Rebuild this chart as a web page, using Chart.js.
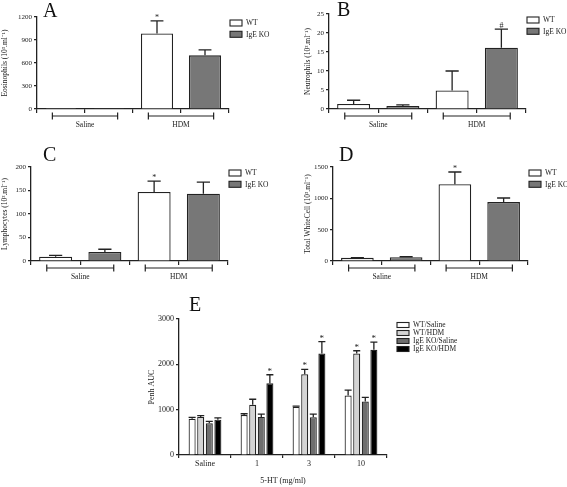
<!DOCTYPE html>
<html lang="en">
<head>
<meta charset="UTF-8">
<title>IgE KO - HDM airway inflammation</title>
<script src="https://cdn.jsdelivr.net/npm/chart.js"></script>
<style>
    body { margin: 0; background: #fff; }
    #fig { position: relative; width: 567px; height: 487px; overflow: hidden; font-family: 'Liberation Serif', serif; }
    .panel { position: absolute; }
    .letter { position: absolute; font-size: 20px; line-height: 1; color: #111; }
</style>
</head>
<body>
<div id="fig">
    <canvas id="chartA" class="panel" style="left:0;top:0" width="280" height="140"></canvas>
    <canvas id="chartB" class="panel" style="left:303px;top:0" width="264" height="140"></canvas>
    <canvas id="chartC" class="panel" style="left:0;top:150px" width="280" height="140"></canvas>
    <canvas id="chartD" class="panel" style="left:303px;top:150px" width="264" height="140"></canvas>
    <canvas id="chartE" class="panel" style="left:147px;top:300px" width="420" height="187"></canvas>
    <div class="letter" style="left:43px;top:0">A</div>
    <div class="letter" style="left:337px;top:-1px">B</div>
    <div class="letter" style="left:43px;top:144px">C</div>
    <div class="letter" style="left:339px;top:144px">D</div>
    <div class="letter" style="left:189px;top:294px">E</div>
</div>
<script>
    // groups and series for panels A-D
    const groupNames = ['Saline', 'HDM'];
    const seriesNames = ['WT', 'IgE KO'];

    // A - eosinophils
    const eosWT = [1, 985], eosWTErr = [0, 165];
    const eosKO = [1, 700], eosKOErr = [0, 72];
    const eosWTSig = ['', '*'], eosKOSig = ['', ''];

    // B - neutrophils
    const neuWT = [1.3, 4.9], neuWTErr = [1.0, 5.1];
    const neuKO = [0.8, 16.1], neuKOErr = [0.3, 4.9];
    const neuWTSig = ['', ''], neuKOSig = ['', '#'];

    // C - lymphocytes
    const lymWT = [9, 147], lymWTErr = [3, 23];
    const lymKO = [19, 143], lymKOErr = [6, 25];
    const lymWTSig = ['', '*'], lymKOSig = ['', ''];

    // D - total white cells
    const wbcWT = [50, 1225], wbcWTErr = [5, 195];
    const wbcKO = [60, 940], wbcKOErr = [8, 65];
    const wbcWTSig = ['', '*'], wbcKOSig = ['', ''];

    // E - Penh AUC vs 5-HT dose
    const doseLabels = ['Saline', '1', '3', '10'];
    const eSeries = ['WT/Saline', 'WT/HDM', 'IgE KO/Saline', 'IgE KO/HDM'];
    const wtSal = [800, 880, 1065, 1310], wtSalErr = [30, 30, 15, 120];
    const wtHdm = [840, 1110, 1780, 2240], wtHdmErr = [30, 120, 110, 60];
    const koSal = [700, 840, 830, 1180], koSalErr = [40, 60, 70, 90];
    const koHdm = [780, 1580, 2240, 2320], koHdmErr = [40, 190, 260, 170];
    const wtHdmSig = ['', '', '*', '*'], koHdmSig = ['', '*', '*', '*'];

    const ink = '#222';
    Chart.defaults.font.family = "'Liberation Serif', 'Times New Roman', serif";
    Chart.defaults.color = ink;

    // error bars (upper only) + significance marks
    const errorBars = {
        id: 'errorBars',
        afterDatasetsDraw(chart, args, opts) {
            const ctx = chart.ctx;
            const yScale = chart.scales.y;
            ctx.save();
            ctx.strokeStyle = ink;
            ctx.lineWidth = 1.3;
            chart.data.datasets.forEach((ds, i) => {
                const meta = chart.getDatasetMeta(i);
                meta.data.forEach((bar, j) => {
                    const v = ds.data[j];
                    if (v === null || v === undefined) return;
                    const err = ds.err ? ds.err[j] : 0;
                    const yTop = yScale.getPixelForValue(v + err);
                    if (err > 0) {
                        const half = bar.width * opts.cap / 2;
                        ctx.beginPath();
                        ctx.moveTo(bar.x, bar.y);
                        ctx.lineTo(bar.x, yTop);
                        ctx.moveTo(bar.x - half, yTop);
                        ctx.lineTo(bar.x + half, yTop);
                        ctx.stroke();
                    }
                    const mark = ds.sig ? ds.sig[j] : '';
                    if (mark) {
                        ctx.fillStyle = ink;
                        ctx.font = opts.markSize + "px 'Liberation Serif', serif";
                        ctx.textAlign = 'center';
                        ctx.textBaseline = 'alphabetic';
                        ctx.fillText(mark, bar.x, yTop - 1);
                    }
                });
            });
            ctx.restore();
        }
    };

    // GraphPad style group brackets under the x axis
    const brackets = {
        id: 'brackets',
        afterDraw(chart, args, opts) {
            if (!opts.groups) return;
            const ctx = chart.ctx;
            const x = chart.scales.x;
            const w = x.getPixelForValue(1) - x.getPixelForValue(0);
            const y = chart.chartArea.bottom + opts.offset;
            ctx.save();
            ctx.strokeStyle = ink;
            ctx.lineWidth = 1.2;
            ctx.fillStyle = ink;
            ctx.font = opts.fontSize + "px 'Liberation Serif', serif";
            ctx.textAlign = 'center';
            ctx.textBaseline = 'middle';
            opts.groups.forEach(g => {
                const x0 = x.getPixelForValue(g.from) - w * 0.18;
                const x1 = x.getPixelForValue(g.to) + w * 0.18;
                ctx.beginPath();
                ctx.moveTo(x0, y); ctx.lineTo(x1, y);
                ctx.moveTo(x0, y - 3.5); ctx.lineTo(x0, y + 3.5);
                ctx.moveTo(x1, y - 3.5); ctx.lineTo(x1, y + 3.5);
                ctx.stroke();
                ctx.fillText(g.label, (x0 + x1) / 2, y + 9);
            });
            ctx.restore();
        }
    };

    // box legend placed next to the plot area
    const boxLegend = {
        id: 'boxLegend',
        afterDraw(chart, args, opts) {
            const ctx = chart.ctx;
            const area = chart.chartArea;
            ctx.save();
            ctx.font = opts.fontSize + "px 'Liberation Serif', serif";
            ctx.textAlign = 'left';
            ctx.textBaseline = 'middle';
            ctx.lineWidth = 1.1;
            chart.data.datasets.forEach((ds, i) => {
                const bx = area.right + opts.dx;
                const cy = area.top + opts.dy + i * opts.gap;
                ctx.fillStyle = ds.backgroundColor;
                ctx.fillRect(bx, cy - opts.boxH / 2, opts.boxW, opts.boxH);
                ctx.strokeStyle = ink;
                ctx.strokeRect(bx, cy - opts.boxH / 2, opts.boxW, opts.boxH);
                ctx.fillStyle = ink;
                ctx.fillText(ds.label, bx + opts.boxW + 4, cy + 0.5);
            });
            ctx.restore();
        }
    };

    function spread(vals, slot) {
        // put the two group values into their own category slot (0/2 for WT, 1/3 for KO)
        const out = [null, null, null, null];
        vals.forEach((v, g) => { out[g * 2 + slot] = v; });
        return out;
    }

    const plainNumber = v => String(v);

    function cellChart(id, p) {
        const ctx = document.getElementById(id).getContext('2d');
        new Chart(ctx, {
            type: 'bar',
            data: {
                labels: ['Saline WT', 'Saline IgE KO', 'HDM WT', 'HDM IgE KO'],
                datasets: [{
                    label: seriesNames[0],
                    data: spread(p.wt, 0),
                    err: spread(p.wtErr, 0),
                    sig: spread(p.wtSig, 0),
                    backgroundColor: '#ffffff'
                }, {
                    label: seriesNames[1],
                    data: spread(p.ko, 1),
                    err: spread(p.koErr, 1),
                    sig: spread(p.koSig, 1),
                    backgroundColor: '#777777'
                }]
            },
            options: {
                responsive: false,
                animation: false,
                skipNull: true,
                borderColor: ink,
                borderWidth: 1.3,
                categoryPercentage: 0.67,
                barPercentage: 1,
                layout: { padding: { left: 0, top: p.padTop, right: p.padRight, bottom: 0 } },
                plugins: {
                    legend: { display: false },
                    tooltip: { enabled: false },
                    errorBars: { cap: 0.4, markSize: 8 },
                    brackets: {
                        offset: 7,
                        fontSize: 7.5,
                        groups: [
                            { label: groupNames[0], from: 0, to: 1 },
                            { label: groupNames[1], from: 2, to: 3 }
                        ]
                    },
                    boxLegend: { dx: 1, dy: 6, gap: 11.3, boxW: 12, boxH: 6, fontSize: 7.5 }
                },
                scales: {
                    x: {
                        ticks: { display: false },
                        grid: { drawOnChartArea: false, drawTicks: true, tickLength: 4, color: ink, lineWidth: 1.2 },
                        border: { color: ink, width: 1.3 },
                        afterFit: s => { s.height = p.xH; }
                    },
                    y: {
                        min: 0,
                        max: p.yMax,
                        ticks: { stepSize: p.yStep, font: { size: 7 }, padding: 2, callback: plainNumber },
                        grid: { drawOnChartArea: false, tickLength: 3, color: ink, lineWidth: 1.2 },
                        border: { color: ink, width: 1.3 },
                        title: { display: true, text: p.yTitle, font: { size: 7.5 }, padding: { top: 1, bottom: 0 } },
                        afterFit: s => { s.width = p.yW; }
                    }
                }
            },
            plugins: [errorBars, brackets, boxLegend]
        });
    }

    cellChart('chartA', {
        wt: eosWT, wtErr: eosWTErr, wtSig: eosWTSig, ko: eosKO, koErr: eosKOErr, koSig: eosKOSig,
        yMax: 1200, yStep: 300, yTitle: 'Eosinophils (10\u00B3.ml\u207B\u00B9)',
        yW: 37, padTop: 17, padRight: 51, xH: 31
    });
    cellChart('chartB', {
        wt: neuWT, wtErr: neuWTErr, wtSig: neuWTSig, ko: neuKO, koErr: neuKOErr, koSig: neuKOSig,
        yMax: 25, yStep: 5, yTitle: 'Neutrophils (10\u00B3.ml\u207B\u00B9)',
        yW: 26, padTop: 14, padRight: 41, xH: 31
    });
    cellChart('chartC', {
        wt: lymWT, wtErr: lymWTErr, wtSig: lymWTSig, ko: lymKO, koErr: lymKOErr, koSig: lymKOSig,
        yMax: 200, yStep: 50, yTitle: 'Lymphocytes (10\u00B3.ml\u207B\u00B9)',
        yW: 31, padTop: 17, padRight: 52, xH: 29
    });
    cellChart('chartD', {
        wt: wbcWT, wtErr: wbcWTErr, wtSig: wbcWTSig, ko: wbcKO, koErr: wbcKOErr, koSig: wbcKOSig,
        yMax: 1500, yStep: 500, yTitle: 'Total WhiteCell (10\u00B3.ml\u207B\u00B9)',
        yW: 30, padTop: 17, padRight: 39, xH: 29
    });

    // panel E - grouped bars
    new Chart(document.getElementById('chartE').getContext('2d'), {
        type: 'bar',
        data: {
            labels: doseLabels,
            datasets: [
                { label: eSeries[0], data: wtSal, err: wtSalErr, backgroundColor: '#ffffff' },
                { label: eSeries[1], data: wtHdm, err: wtHdmErr, sig: wtHdmSig, backgroundColor: '#d4d4d4' },
                { label: eSeries[2], data: koSal, err: koSalErr, backgroundColor: '#6e6e6e' },
                { label: eSeries[3], data: koHdm, err: koHdmErr, sig: koHdmSig, backgroundColor: '#000000' }
            ]
        },
        options: {
            responsive: false,
            animation: false,
            borderColor: ink,
            borderWidth: 1.2,
            categoryPercentage: 0.66,
            barPercentage: 0.82,
            layout: { padding: { left: 0, top: 19, right: 180, bottom: 0 } },
            plugins: {
                legend: { display: false },
                tooltip: { enabled: false },
                errorBars: { cap: 1, markSize: 9 },
                brackets: {},
                boxLegend: { dx: 10, dy: 6, gap: 8, boxW: 12, boxH: 5, fontSize: 7.5 }
            },
            scales: {
                x: {
                    ticks: { font: { size: 8 }, padding: 1 },
                    grid: { drawOnChartArea: false, tickLength: 3, color: ink, lineWidth: 1.2 },
                    border: { color: ink, width: 1.3 },
                    title: { display: true, text: '5-HT (mg/ml)', font: { size: 8 }, padding: { top: 0, bottom: 1 } },
                    afterFit: s => { s.height = 32; }
                },
                y: {
                    min: 0,
                    max: 3000,
                    ticks: { stepSize: 1000, font: { size: 8 }, padding: 2, callback: plainNumber },
                    grid: { drawOnChartArea: false, tickLength: 3, color: ink, lineWidth: 1.2 },
                    border: { color: ink, width: 1.3 },
                    title: { display: true, text: 'Penh AUC', font: { size: 8 }, padding: { top: 0, bottom: 0 } },
                    afterFit: s => { s.width = 32; }
                }
            }
        },
        plugins: [errorBars, brackets, boxLegend]
    });
</script>
</body>
</html>
